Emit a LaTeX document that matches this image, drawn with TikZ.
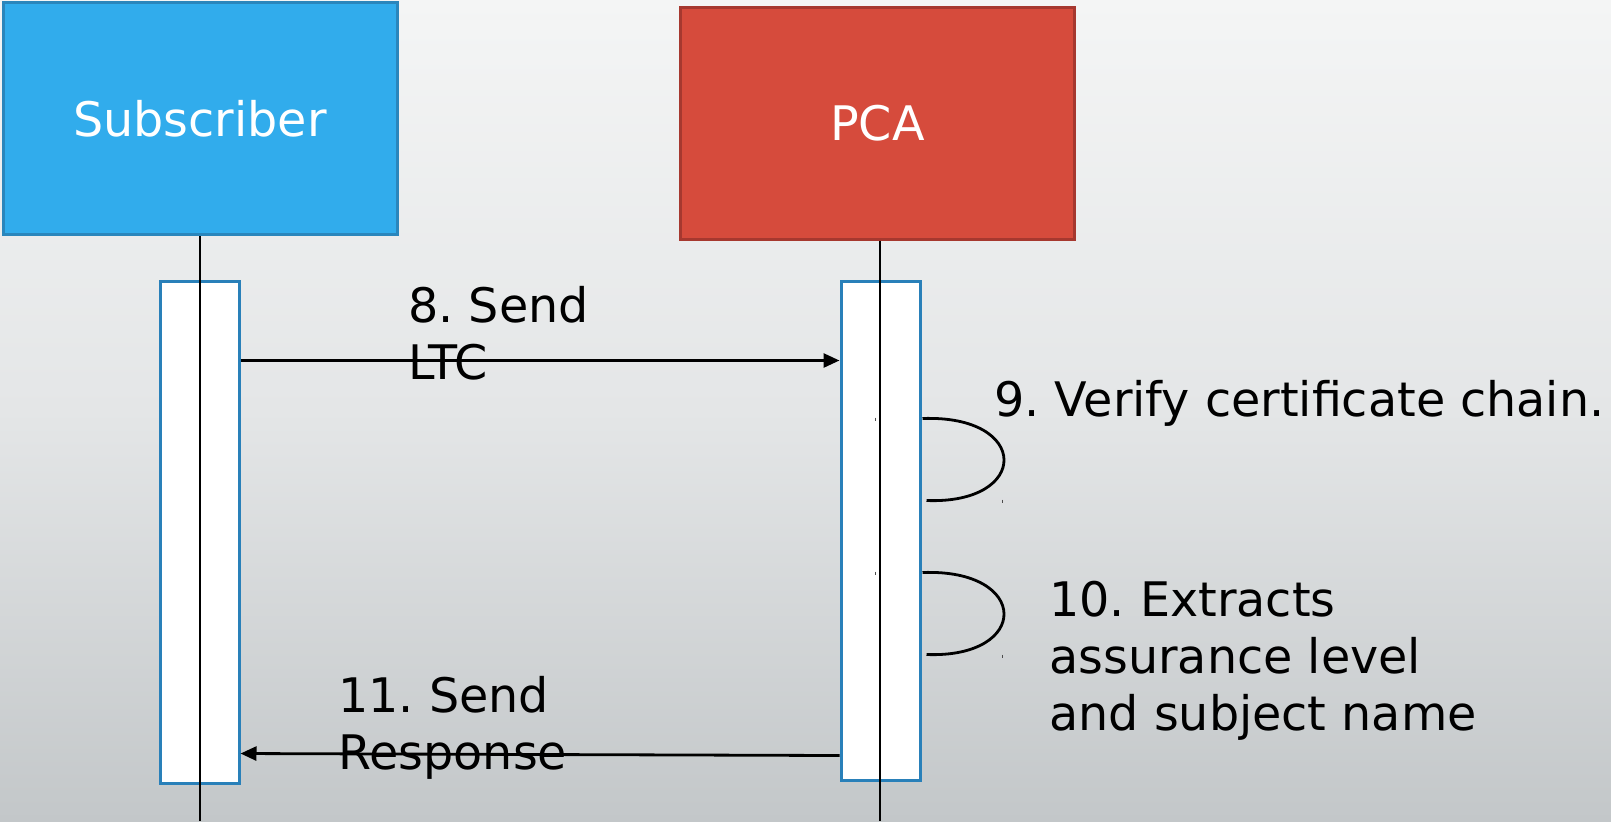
\documentclass[tikz,border=0pt]{standalone}
\usepackage{fontspec}
\setmainfont{DejaVu Sans}
\frenchspacing
\usetikzlibrary{arrows.meta,calc}
\definecolor{bgtop}{RGB}{244,245,245}
\definecolor{bgmid}{RGB}{228,230,231}
\definecolor{bgbot}{RGB}{195,199,201}
\definecolor{subfill}{RGB}{49,172,236}
\definecolor{subline}{RGB}{42,134,188}
\definecolor{pcafill}{RGB}{214,75,60}
\definecolor{pcaline}{RGB}{166,56,47}
\definecolor{actline}{RGB}{41,128,185}
\tikzset{
  actor/.style={rectangle, line width=1.5pt, text=white, inner sep=0pt,
    minimum width=197pt, minimum height=116pt,
    font=\fontsize{23.8}{28.5}\selectfont},
  activation/.style={rectangle, draw=actline, fill=white, line width=1.5pt,
    minimum width=39.5pt, inner sep=0pt},
  lifeline/.style={line width=0.9pt, black},
  msg/.style={line width=1.4pt, black, -{Triangle[length=8pt,width=7pt]}},
  selfloop/.style={line width=1.4pt, black},
  tick/.style={line width=0.5pt, black!70},
  label/.style={inner sep=0pt, align=left, text=black,
    font=\fontsize{23.8}{28.5}\selectfont}
}
\begin{document}
\begin{tikzpicture}[x=0.5pt,y=-0.5pt]
  % backdrop
  \useasboundingbox (0,0) rectangle (1611,821);
  \shade[top color=bgtop, bottom color=bgbot, middle color=bgmid] (0,0) rectangle (1611,821);

  % participants
  \node[actor, draw=subline, fill=subfill] (sub) at (200,118.5) {Subscriber};
  \node[actor, draw=pcaline, fill=pcafill] (pca) at (877.5,123) {\raisebox{-4pt}{PCA}};

  % activation bars
  \node[activation, minimum height=251pt] (subact) at (199.5,532) {};
  \node[activation, minimum height=249.5pt] (pcaact) at (880.5,530.5) {};

  % lifelines
  \coordinate (subend) at (200,821);
  \coordinate (pcaend) at (880,821);
  \draw[lifeline] (sub.south) -- (subend);
  \draw[lifeline] (pca.south -| pcaend) -- (pcaend);

  % messages
  \draw[msg] ([yshift=-40.5pt]subact.north east) -- ([yshift=-40.5pt]pcaact.north west);
  \draw[msg] ([yshift=-238pt]pcaact.north west) -- ([yshift=-237pt]subact.north east);

  % self calls on the PCA
  \draw[selfloop] ([yshift=-69.5pt,xshift=0.5pt]pcaact.north east)
     .. controls +(108,-4) and +(104,4) .. ([yshift=-110.5pt,xshift=2.5pt]pcaact.north east);
  \draw[selfloop] ([yshift=-146.5pt,xshift=0.5pt]pcaact.north east)
     .. controls +(108,-4) and +(104,4) .. ([yshift=-187.5pt,xshift=2.5pt]pcaact.north east);
  \draw[tick] ([yshift=-69pt,xshift=-23pt]pcaact.north east) -- ++(0,3);
  \draw[tick] ([yshift=-110pt,xshift=40.5pt]pcaact.north east) -- ++(0,3);
  \draw[tick] ([yshift=-146pt,xshift=-23pt]pcaact.north east) -- ++(0,3);
  \draw[tick] ([yshift=-187.5pt,xshift=40.5pt]pcaact.north east) -- ++(0,3);

  % labels
  \node[label, anchor=north west] (l8) at (408,286) {8. Send\\LTC};
  \node[label, anchor=base west] (l9) at (994,416) {9. Verify certificate chain.};
  \node[label, anchor=north west] (l10) at (1049,581) {10. Extracts\\assurance level\\and subject name};
  \node[label, anchor=north west] (l11) at (338,676) {11. Send\\Response};
\end{tikzpicture}
\end{document}
